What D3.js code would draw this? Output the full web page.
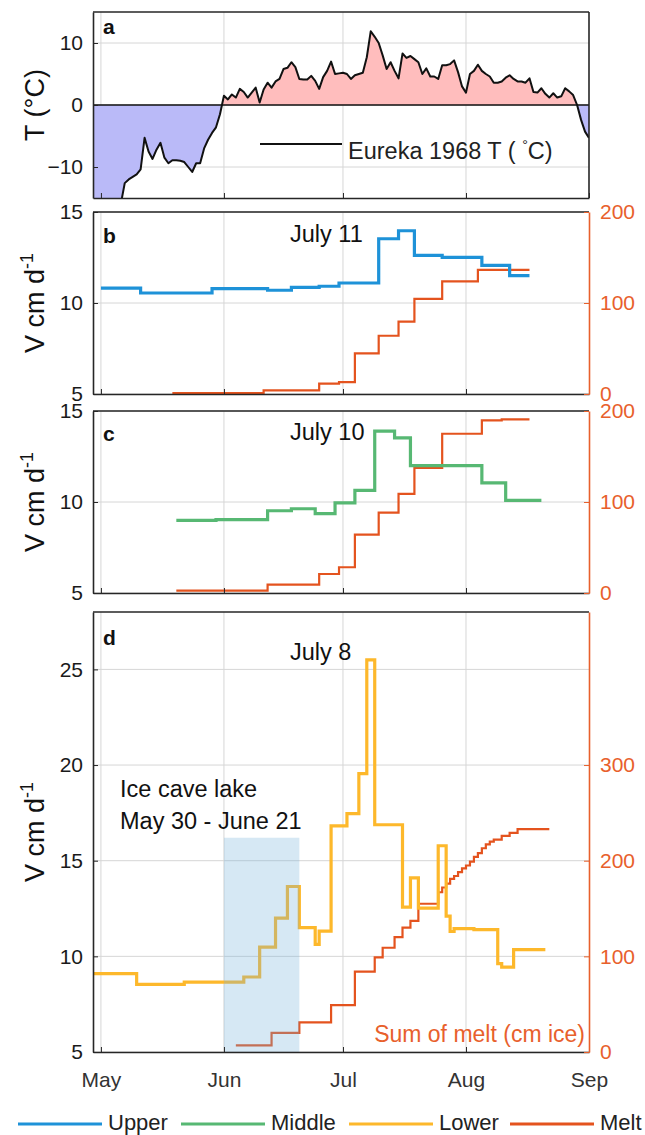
<!DOCTYPE html>
<html>
<head>
<meta charset="utf-8">
<script src="https://d3js.org/d3.v7.min.js"></script>
<style>
  body { margin: 0; background: #fff; }
  svg text { font-family: "Liberation Sans", Arial, Helvetica, sans-serif; }
</style>
</head>
<body>
<svg id="chart" width="645" height="1135"></svg>
<script>
// ---------- data ----------
var months = ["May", "Jun", "Jul", "Aug", "Sep"];

// Eureka 1968 daily air temperature (deg C), one value a day from Apr 29
var tempStart = "04-29";
var tempValues = [-22, -21, -20, -19, -18.5, -18, -17, -16, -12.6, -12, -11.6, -11.2, -10.4,
  -5.3, -7.5, -8.7, -7.2, -6.1, -8.5, -9.4, -8.9, -8.9, -9.0, -9.2, -10.0, -10.8, -9.4, -9.4,
  -7.0, -5.6, -4.5, -3.6, -1.5, 1.5, 0.9, 1.7, 1.2, 2.6, 2.1, 1.2, 2.0, 2.8, 0.4, 2.5, 3.6,
  2.8, 3.8, 4.2, 5.8, 6.0, 6.9, 6.1, 4.2, 4.1, 4.1, 4.7, 3.9, 2.6, 4.5, 5.5, 7.0, 5.0, 5.1,
  5.2, 5.0, 4.2, 4.8, 5.0, 5.2, 7.7, 11.9, 11.0, 10.0, 8.0, 5.8, 6.9, 5.5, 4.3, 8.3, 7.6,
  7.9, 7.4, 6.9, 5.0, 5.9, 4.6, 4.6, 4.2, 6.4, 6.4, 6.6, 7.2, 5.3, 3.0, 2.0, 5.0, 5.5, 6.5,
  5.5, 5.0, 4.6, 3.6, 3.6, 3.8, 4.4, 4.8, 4.2, 3.8, 3.8, 3.6, 4.3, 2.1, 2.0, 2.7, 1.8, 1.2,
  1.9, 1.2, 1.4, 2.7, 2.2, 1.6, 0, -2.4, -4.3, -5.3];

// velocity (cm/d) and summed melt (cm ice) as step series: value holds from its date on
var upperDates  = ["05-01", "05-11", "05-29", "06-12", "06-18", "06-25", "06-30", "07-10", "07-15", "07-19", "07-26", "08-05", "08-12", "08-17"];
var upperValues = [10.82, 10.55, 10.79, 10.70, 10.86, 10.92, 11.10, 13.53, 13.97, 12.62, 12.51, 12.07, 11.50];

var meltBDates  = ["05-19", "06-11", "06-25", "06-30", "07-04", "07-10", "07-15", "07-19", "07-26", "08-04", "08-17"];
var meltBValues = [1, 4, 11.5, 13, 44.7, 64, 79.5, 104.6, 123.8, 136.4];

var middleDates  = ["05-20", "05-30", "06-12", "06-18", "06-24", "06-29", "07-04", "07-09", "07-14", "07-18", "08-05", "08-11", "08-20"];
var middleValues = [8.99, 9.03, 9.52, 9.63, 9.36, 9.95, 10.64, 13.89, 13.52, 12.0, 11.05, 10.09];

var meltCDates  = ["05-20", "06-12", "06-25", "06-30", "07-04", "07-10", "07-15", "07-19", "07-26", "08-05", "08-10", "08-17"];
var meltCValues = [2.6, 9.2, 20.9, 28.3, 64.2, 88.4, 109, 137.6, 175, 189.7, 190.8];

var lowerDates  = ["04-29", "05-10", "05-22", "06-06", "06-10", "06-14", "06-17", "06-20", "06-24", "06-25", "06-28",
  "07-02", "07-05", "07-07", "07-09", "07-16", "07-18", "07-20", "07-25", "07-27", "07-28", "07-29", "08-03",
  "08-09", "08-10", "08-13", "08-21"];
var lowerValues = [9.10, 8.54, 8.65, 8.92, 10.48, 12.0, 13.65, 11.5, 10.63, 11.32, 16.82,
  17.46, 19.55, 25.5, 16.88, 12.57, 14.1, 12.52, 15.78, 12.1, 11.3, 11.45, 11.4,
  9.62, 9.44, 10.35];

var meltDDates  = ["06-04", "06-13", "06-20", "06-28", "07-04", "07-09", "07-11", "07-14", "07-16", "07-18", "07-20",
  "07-25", "07-26", "07-27", "07-28", "07-29", "07-30", "07-31", "08-01", "08-02", "08-03", "08-04", "08-05",
  "08-06", "08-07", "08-08", "08-10", "08-12", "08-14", "08-22"];
var meltDValues = [7, 20, 31, 49, 84, 99, 109, 120, 130, 137, 155,
  167, 172, 176, 181, 184, 188, 192, 195, 199, 204, 208, 213,
  217, 220, 222, 226, 229, 233];

var lakeDates = ["06-01", "06-20"];   // shaded "Ice cave lake" period
var lakeTop = 16.2;

var legendKeys = ["Upper", "Middle", "Lower", "Melt"];

// ---------- set up ----------
var svg = d3.select("#chart");
var parse = d3.utcParse("%Y-%m-%d");
function day(s) { return parse("1968-" + s); }

var colors = {Upper: "#1e92d8", Middle: "#57b873", Lower: "#fdb82b", Melt: "#e4531e"};
var axisOrange = "#e8602c";
var frameColor = "#262626";
var gridColor = "#d6d6d6";

var left = 93, right = 589;
var x = d3.scaleUtc()
    .domain([day("04-29"), day("09-01")])
    .range([left, right]);
var monthTicks = months.map(function(m, i) { return d3.utcMonth.offset(day("05-01"), i); });

// one step series -> points, last date repeats the last value
function steps(dates, values) {
  return dates.map(function(d, i) {
    return {date: day(d), v: values[Math.min(i, values.length - 1)]};
  });
}

function panel(top, bottom, yDom, yTicks, rDom, rTicks, letter, letterY) {
  var y = d3.scaleLinear().domain(yDom).range([bottom, top]);
  var y2 = rDom ? d3.scaleLinear().domain(rDom).range([bottom, top]) : null;
  var g = svg.append("g");

  // grid
  g.append("g").selectAll("line").data(monthTicks.slice(0, 4)).enter().append("line")
      .attr("x1", function(d) { return x(d); }).attr("x2", function(d) { return x(d); })
      .attr("y1", top).attr("y2", bottom)
      .attr("stroke", gridColor).attr("stroke-width", 1);
  g.append("g").selectAll("line").data(yTicks).enter().append("line")
      .attr("x1", left).attr("x2", right)
      .attr("y1", function(d) { return y(d); }).attr("y2", function(d) { return y(d); })
      .attr("stroke", gridColor).attr("stroke-width", 1);

  var clipId = "clip-" + letter;
  svg.append("clipPath").attr("id", clipId).append("rect")
      .attr("x", left).attr("y", top).attr("width", right - left).attr("height", bottom - top);

  return {g: g, y: y, y2: y2, top: top, bottom: bottom, yTicks: yTicks, rTicks: rTicks,
          letter: letter, letterY: letterY, clip: "url(#" + clipId + ")"};
}

function frame(p) {
  var g = p.g;
  // left axis
  var la = g.append("g").attr("transform", "translate(" + left + ",0)")
      .call(d3.axisLeft(p.y).tickValues(p.yTicks).tickSize(-5).tickSizeOuter(0).tickPadding(10));
  la.selectAll("text").attr("font-size", 21).attr("fill", "#1a1a1a");
  la.selectAll("line").attr("stroke", frameColor);
  la.select(".domain").attr("stroke", frameColor).attr("stroke-width", 1.6);

  // bottom / top edges
  var ba = g.append("g").attr("transform", "translate(0," + p.bottom + ")")
      .call(d3.axisBottom(x).tickValues(monthTicks).tickSize(-5).tickSizeOuter(0)
            .tickPadding(20).tickFormat(d3.utcFormat("%b")));
  ba.selectAll("line").attr("stroke", frameColor);
  ba.select(".domain").attr("stroke", frameColor).attr("stroke-width", 1.6);
  ba.selectAll("text").attr("font-size", 21).attr("fill", "#333")
      .style("display", p.letter == "d" ? null : "none");
  g.append("line").attr("x1", left).attr("x2", right).attr("y1", p.top).attr("y2", p.top)
      .attr("stroke", frameColor).attr("stroke-width", 1.6);

  // right edge: orange axis where there is one
  if (p.y2) {
    var ra = g.append("g").attr("transform", "translate(" + right + ",0)")
        .call(d3.axisRight(p.y2).tickValues(p.rTicks).tickSize(-5).tickSizeOuter(0).tickPadding(11));
    ra.selectAll("text").attr("font-size", 21).attr("fill", axisOrange);
    ra.selectAll("line").attr("stroke", axisOrange);
    ra.select(".domain").attr("stroke", axisOrange).attr("stroke-width", 1.6);
  } else {
    g.append("line").attr("x1", right).attr("x2", right).attr("y1", p.top).attr("y2", p.bottom)
        .attr("stroke", frameColor).attr("stroke-width", 1.6);
  }

  g.append("text").attr("x", 103).attr("y", p.letterY)
      .attr("font-size", 21).attr("font-weight", "bold").attr("fill", "#111")
      .text(p.letter);
}

function stepLine(p, data, scale, color, width) {
  p.g.append("path")
      .datum(data)
      .attr("clip-path", p.clip)
      .attr("fill", "none")
      .attr("stroke", color)
      .attr("stroke-width", width)
      .attr("stroke-linejoin", "miter")
      .attr("d", d3.line()
          .curve(d3.curveStepAfter)
          .x(function(d) { return x(d.date); })
          .y(function(d) { return scale(d.v); }));
}

function vLabel(p) {
  var t = p.g.append("text")
      .attr("transform", "translate(44," + ((p.top + p.bottom) / 2) + ") rotate(-90)")
      .attr("text-anchor", "middle").attr("font-size", 27).attr("fill", "#111");
  t.append("tspan").text("V cm d");
  t.append("tspan").attr("dy", -11).attr("font-size", 18).text("-1");
}

// ---------- panel a: temperature ----------
var pa = panel(12, 198, [-15, 15], [-10, 0, 10], null, null, "a", 34);
var temps = tempValues.map(function(v, i) {
  return {date: d3.utcDay.offset(day(tempStart), i), v: v};
});

svg.append("clipPath").attr("id", "clip-pos").append("rect")
    .attr("x", left).attr("y", pa.top).attr("width", right - left).attr("height", pa.y(0) - pa.top);
svg.append("clipPath").attr("id", "clip-neg").append("rect")
    .attr("x", left).attr("y", pa.y(0)).attr("width", right - left).attr("height", pa.bottom - pa.y(0));

var tArea = d3.area()
    .x(function(d) { return x(d.date); })
    .y0(pa.y(0))
    .y1(function(d) { return pa.y(d.v); });

pa.g.append("path").datum(temps).attr("clip-path", "url(#clip-pos)")
    .attr("fill", "#ffbdbd").attr("d", tArea);
pa.g.append("path").datum(temps).attr("clip-path", "url(#clip-neg)")
    .attr("fill", "#babaf8").attr("d", tArea);
pa.g.append("line").attr("x1", left).attr("x2", right).attr("y1", pa.y(0)).attr("y2", pa.y(0))
    .attr("stroke", "#111").attr("stroke-width", 1.6);
pa.g.append("path").datum(temps).attr("clip-path", pa.clip)
    .attr("fill", "none").attr("stroke", "#111").attr("stroke-width", 2)
    .attr("stroke-linejoin", "round")
    .attr("d", d3.line().x(function(d) { return x(d.date); }).y(function(d) { return pa.y(d.v); }));
frame(pa);

// legend inside panel a
pa.g.append("line").attr("x1", 260).attr("x2", 342).attr("y1", 144).attr("y2", 144)
    .attr("stroke", "#111").attr("stroke-width", 2);
var et = pa.g.append("text").attr("x", 348).attr("y", 159).attr("font-size", 23.5).attr("fill", "#222");
et.append("tspan").text("Eureka 1968 T ( ");
et.append("tspan").attr("dy", -9).attr("font-size", 14).text("\u00b0");
et.append("tspan").attr("dy", 9).text("C)");

var ta = pa.g.append("text")
    .attr("transform", "translate(44," + ((pa.top + pa.bottom) / 2) + ") rotate(-90)")
    .attr("text-anchor", "middle").attr("font-size", 27).attr("fill", "#111");
ta.text("T (\u00b0C)");

// ---------- panel b: upper ----------
var pb = panel(212, 394, [5, 15], [5, 10, 15], [0, 200], [0, 100, 200], "b", 243);
stepLine(pb, steps(meltBDates, meltBValues), pb.y2, colors.Melt, 2.2);
stepLine(pb, steps(upperDates, upperValues), pb.y, colors.Upper, 3.2);
frame(pb);
vLabel(pb);
pb.g.append("text").attr("x", 290).attr("y", 242).attr("font-size", 23.5).attr("fill", "#111").text("July 11");

// ---------- panel c: middle ----------
var pc = panel(411, 593, [5, 15], [5, 10, 15], [0, 200], [0, 100, 200], "c", 441);
stepLine(pc, steps(meltCDates, meltCValues), pc.y2, colors.Melt, 2.2);
stepLine(pc, steps(middleDates, middleValues), pc.y, colors.Middle, 3.2);
frame(pc);
vLabel(pc);
pc.g.append("text").attr("x", 290).attr("y", 440).attr("font-size", 23.5).attr("fill", "#111").text("July 10");

// ---------- panel d: lower ----------
var pd = panel(612, 1052, [5, 28], [5, 10, 15, 20, 25], [0, 460], [0, 100, 200, 300], "d", 645);
stepLine(pd, steps(meltDDates, meltDValues), pd.y2, colors.Melt, 2.2);
stepLine(pd, steps(lowerDates, lowerValues), pd.y, colors.Lower, 3.2);
pd.g.append("rect")
    .attr("x", x(day(lakeDates[0])))
    .attr("width", x(day(lakeDates[1])) - x(day(lakeDates[0])))
    .attr("y", pd.y(lakeTop))
    .attr("height", pd.bottom - pd.y(lakeTop))
    .attr("fill", "rgb(118,178,218)").attr("fill-opacity", 0.3);
frame(pd);
vLabel(pd);
pd.g.append("text").attr("x", 290).attr("y", 660).attr("font-size", 23.5).attr("fill", "#111").text("July 8");
pd.g.append("text").attr("x", 120).attr("y", 797).attr("font-size", 23.5).attr("fill", "#111").text("Ice cave lake");
pd.g.append("text").attr("x", 120).attr("y", 829).attr("font-size", 23.5).attr("fill", "#111").text("May 30 - June 21");
pd.g.append("text").attr("x", 585).attr("y", 1042).attr("text-anchor", "end")
    .attr("font-size", 23).attr("fill", axisOrange).text("Sum of melt (cm ice)");

// ---------- legend ----------
var legendX = [18, 181, 349, 510];
var legend = svg.append("g").selectAll("g")
    .data(legendKeys)
    .enter().append("g")
      .attr("transform", function(d, i) { return "translate(" + legendX[i] + ",1124)"; });
legend.append("line")
    .attr("x1", 0).attr("x2", 84)
    .attr("stroke", function(d) { return colors[d]; })
    .attr("stroke-width", 3);
legend.append("text")
    .attr("x", 90).attr("y", 6)
    .attr("font-size", 22).attr("fill", "#222")
    .text(function(d) { return d; });
</script>
</body>
</html>
